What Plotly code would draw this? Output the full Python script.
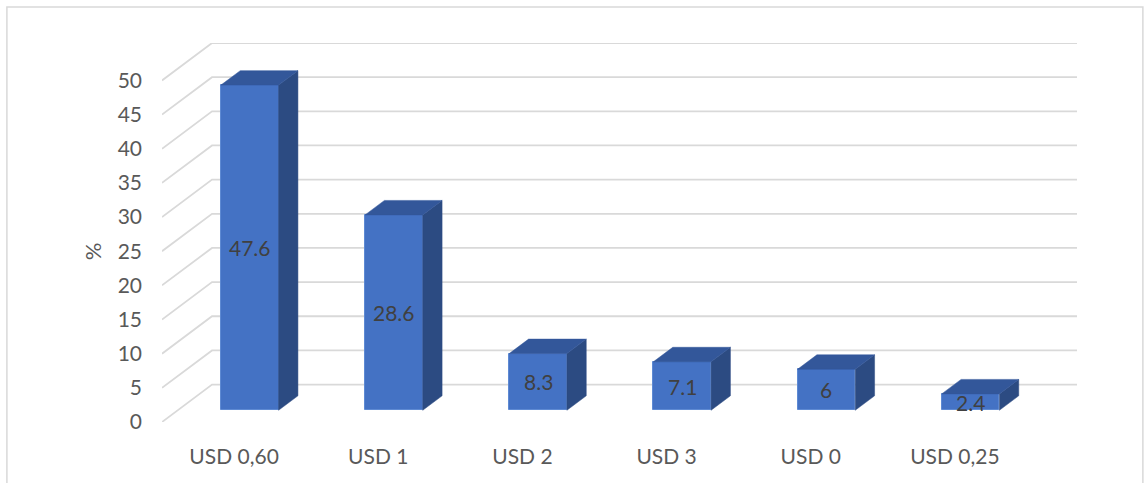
import plotly.graph_objects as go

# Price categories and the share of respondents (%) for each
categories = ["USD 0,60", "USD 1", "USD 2", "USD 3", "USD 0", "USD 0,25"]
values = [47.6, 28.6, 8.3, 7.1, 6, 2.4]
y_ticks = [0, 5, 10, 15, 20, 25, 30, 35, 40, 45, 50]

# Pseudo-3D geometry (in axis units): full depth of the floor, and where the
# bar columns sit inside that depth
DEPTH_X, DEPTH_Y = 0.347, 5.48
BAR_FRONT, BAR_BACK = 0.313, 0.70
BAR_W = 0.4

FRONT = "#4472C4"
SIDE = "#2C4B82"
TOP = "#33579A"
GRID = "#D9D9D9"
TEXT = "#595959"
FONT = "Lato"

x_idx = list(range(len(categories)))
x_lo, x_hi = -0.5, len(categories) - 0.5

fig = go.Figure()

# Gridlines (behind the columns): diagonal strokes on the side wall and
# horizontal lines on the back wall
for t in y_ticks:
    fig.add_shape(type="path", xref="x", yref="y", layer="below",
                  path=(f"M {x_lo},{t} L {x_lo + DEPTH_X},{t + DEPTH_Y} "
                        f"L {x_hi + DEPTH_X},{t + DEPTH_Y}"),
                  line=dict(color=GRID, width=1.8))

# Front faces of the columns
base = BAR_FRONT * DEPTH_Y
off = BAR_FRONT * DEPTH_X - BAR_W / 2
fig.add_trace(go.Bar(x=x_idx, y=values, base=base, width=BAR_W, offset=off,
                     marker=dict(color=FRONT, line=dict(color="#5E8AD3", width=1)),
                     showlegend=False, hoverinfo="skip"))

# Side and top faces
ddx = (BAR_BACK - BAR_FRONT) * DEPTH_X
ddy = (BAR_BACK - BAR_FRONT) * DEPTH_Y
for i, v in zip(x_idx, values):
    xl = i + off
    xr = xl + BAR_W
    top = base + v
    fig.add_trace(go.Scatter(
        x=[xr, xr + ddx, xr + ddx, xr, xr],
        y=[base, base + ddy, top + ddy, top, base],
        mode="lines", fill="toself", fillcolor=SIDE, line=dict(color=SIDE, width=0.5),
        hoverinfo="skip", showlegend=False, cliponaxis=False))
    fig.add_trace(go.Scatter(
        x=[xl, xr, xr + ddx, xl + ddx, xl],
        y=[top, top, top + ddy, top + ddy, top],
        mode="lines", fill="toself", fillcolor=TOP, line=dict(color=TOP, width=0.5),
        hoverinfo="skip", showlegend=False, cliponaxis=False))

# Value labels centred on the front faces
for i, v in zip(x_idx, values):
    fig.add_annotation(x=i + off + BAR_W / 2, y=base + v / 2, text=f"{v:g}",
                       showarrow=False, font=dict(family=FONT, size=21, color="#404040"))

# Axis title
fig.add_annotation(xref="paper", yref="y", x=-0.0765, y=25, text="%", textangle=-90,
                   xanchor="center", yanchor="middle", showarrow=False,
                   font=dict(family=FONT, size=22, color=TEXT))

# Chart frame
fig.add_shape(type="rect", xref="paper", yref="paper", x0=-0.1695, x1=1.072,
              y0=-0.2, y1=1.095, line=dict(color=GRID, width=1.5), layer="below")

fig.update_layout(
    width=1144, height=483,
    margin=dict(l=162, r=67, t=43, b=61),
    paper_bgcolor="white", plot_bgcolor="white",
    bargap=0,
    font=dict(family=FONT, size=21, color=TEXT),
    xaxis=dict(range=[x_lo, x_hi + DEPTH_X], tickvals=x_idx, ticktext=categories,
               showgrid=False, zeroline=False, showline=False, ticks="",
               ticklabelstandoff=20, fixedrange=True),
    yaxis=dict(range=[0, 50 + DEPTH_Y], tickvals=y_ticks, showgrid=False,
               zeroline=False, showline=False, ticks="", ticklabelstandoff=19,
               fixedrange=True),
)

fig.write_html("out.html")
